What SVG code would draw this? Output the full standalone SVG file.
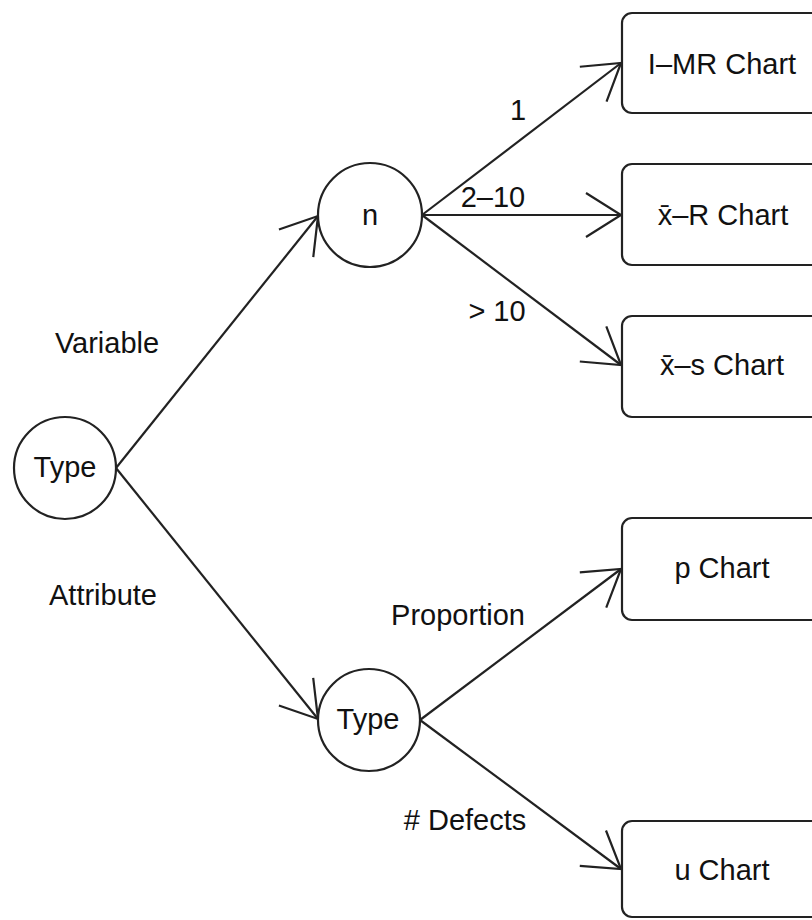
<svg xmlns="http://www.w3.org/2000/svg" width="812" height="920" viewBox="0 0 812 920">
  <style>
    .node { fill: #fff; stroke: #222; stroke-width: 2.2; }
    .lbl { font-family: "Liberation Sans", Arial, sans-serif; font-size: 29px; fill: #111; text-anchor: middle; }
    .edge { fill: none; stroke: #222; stroke-width: 2.2; marker-end: url(#open); }
  </style>
  <defs>
    <marker id="open" markerUnits="userSpaceOnUse" markerWidth="60" markerHeight="60" viewBox="-40 -30 44 60" refX="0" refY="0" orient="auto" overflow="visible">
      <path d="M -35 -22 L 0 0 L -35 22" fill="none" stroke="#222" stroke-width="2.2" stroke-linejoin="miter"/>
    </marker>
  </defs>
  <rect width="812" height="920" fill="#fff"/>

  <!-- connectors -->
  <g id="edges">
    <path class="edge" d="M 116 468 L 318 216"/>
    <path class="edge" d="M 116 468 L 318 719"/>
    <path class="edge" d="M 422 215 L 621 63"/>
    <path class="edge" d="M 422 215 L 621 215"/>
    <path class="edge" d="M 422 215 L 621 365"/>
    <path class="edge" d="M 420 720 L 621 569"/>
    <path class="edge" d="M 420 720 L 621 869"/>
  </g>

  <!-- edge labels -->
  <g id="edge-labels">
    <text class="lbl" x="107" y="353">Variable</text>
    <text class="lbl" x="103" y="605">Attribute</text>
    <text class="lbl" x="518" y="120">1</text>
    <text class="lbl" x="493" y="207">2–10</text>
    <text class="lbl" x="497" y="321">&gt; 10</text>
    <text class="lbl" x="458" y="625">Proportion</text>
    <text class="lbl" x="465" y="830">#&#160;Defects</text>
  </g>

  <!-- decision nodes -->
  <g id="type-root">
    <circle class="node" cx="65" cy="468" r="51"/>
    <text class="lbl" x="65" y="477">Type</text>
  </g>
  <g id="sample-size">
    <circle class="node" cx="370" cy="215" r="52"/>
    <text class="lbl" x="370" y="225">n</text>
  </g>
  <g id="attribute-type">
    <circle class="node" cx="369" cy="720" r="51"/>
    <text class="lbl" x="368" y="729">Type</text>
  </g>

  <!-- chart nodes -->
  <g id="imr-chart">
    <rect class="node" x="622" y="13" width="240" height="100" rx="10"/>
    <text class="lbl" x="722" y="74">I–MR Chart</text>
  </g>
  <g id="xbar-r-chart">
    <rect class="node" x="622" y="164" width="240" height="101" rx="10"/>
    <text class="lbl" x="723" y="225">x̄–R Chart</text>
  </g>
  <g id="xbar-s-chart">
    <rect class="node" x="622" y="316" width="240" height="101" rx="10"/>
    <text class="lbl" x="722" y="375">x̄–s Chart</text>
  </g>
  <g id="p-chart">
    <rect class="node" x="622" y="518" width="240" height="102" rx="10"/>
    <text class="lbl" x="722" y="578">p Chart</text>
  </g>
  <g id="u-chart">
    <rect class="node" x="622" y="821" width="240" height="96" rx="10"/>
    <text class="lbl" x="722" y="880">u Chart</text>
  </g>
</svg>
